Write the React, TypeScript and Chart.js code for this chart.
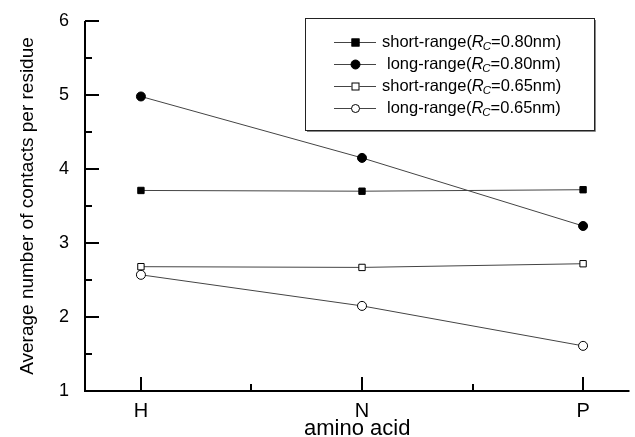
import React, { useEffect, useRef } from "react";
import { Chart, registerables } from "chart.js";

Chart.register(...registerables);

const categories = ["H", "N", "P"];
const shortRange080 = [3.71, 3.7, 3.72];
const longRange080 = [4.98, 4.15, 3.23];
const shortRange065 = [2.68, 2.67, 2.72];
const longRange065 = [2.57, 2.15, 1.61];
const yTicks = [1, 2, 3, 4, 5, 6];
const legendRows = [
  { prefix: "short-range(", value: "=0.80nm)", style: "rect", filled: true },
  { prefix: "long-range(", value: "=0.80nm)", style: "circle", filled: true },
  { prefix: "short-range(", value: "=0.65nm)", style: "rect", filled: false },
  { prefix: "long-range(", value: "=0.65nm)", style: "circle", filled: false },
];

const FONT = "'Liberation Sans', Arial, sans-serif";

const toPoints = (vals: number[]) => vals.map((v, i) => ({ x: i, y: v }));

const axesPlugin = {
  id: "customAxes",
  afterDraw(chart: any) {
    const ctx = chart.ctx;
    const xs = chart.scales.x;
    const ys = chart.scales.y;
    const { left, right, top, bottom } = chart.chartArea;
    ctx.save();
    ctx.strokeStyle = "#000";
    ctx.lineWidth = 2;
    ctx.beginPath();
    ctx.moveTo(left, top);
    ctx.lineTo(left, bottom);
    ctx.lineTo(right, bottom);
    ctx.stroke();
    // y ticks (inward)
    for (let v = 1; v <= 6.001; v += 0.5) {
      const y = Math.round(ys.getPixelForValue(v));
      const major = Math.abs(v - Math.round(v)) < 1e-6;
      ctx.beginPath();
      ctx.moveTo(left, y);
      ctx.lineTo(left + (major ? 14 : 7), y);
      ctx.stroke();
    }
    // x ticks (inward)
    for (let v = 0; v <= 2.001; v += 0.5) {
      const x = Math.round(xs.getPixelForValue(v));
      const major = Math.abs(v - Math.round(v)) < 1e-6;
      ctx.beginPath();
      ctx.moveTo(x, bottom);
      ctx.lineTo(x, bottom - (major ? 14 : 7));
      ctx.stroke();
    }
    // legend
    const bx = 305, by = 18, bw = 289, bh = 112;
    ctx.fillStyle = "#fff";
    ctx.fillRect(bx, by, bw, bh);
    ctx.strokeStyle = "#888";
    ctx.lineWidth = 1;
    ctx.beginPath();
    ctx.moveTo(bx + bw + 1.5, by + 2);
    ctx.lineTo(bx + bw + 1.5, by + bh + 1.5);
    ctx.lineTo(bx + 2, by + bh + 1.5);
    ctx.stroke();
    ctx.strokeStyle = "#222";
    ctx.strokeRect(bx + 0.5, by + 0.5, bw, bh);
    const rowY = [42, 64, 86, 108];
    legendRows.forEach((r, i) => {
      const y = rowY[i];
      ctx.strokeStyle = "#444";
      ctx.lineWidth = 1;
      ctx.beginPath();
      ctx.moveTo(334, y + 0.5);
      ctx.lineTo(376, y + 0.5);
      ctx.stroke();
      ctx.fillStyle = r.filled ? "#000" : "#fff";
      ctx.strokeStyle = "#000";
      if (r.style === "rect") {
        ctx.fillRect(351.5, y - 3.5, 8, 8);
        ctx.strokeRect(352, y - 3, 7, 7);
      } else {
        ctx.beginPath();
        ctx.arc(355.5, y + 0.5, r.filled ? 4.5 : 4, 0, Math.PI * 2);
        ctx.fill();
        ctx.stroke();
      }
      ctx.fillStyle = "#000";
      ctx.textBaseline = "middle";
      ctx.textAlign = "left";
      let x = r.prefix.startsWith("short") ? 382 : 387;
      ctx.font = `16.5px ${FONT}`;
      ctx.fillText(r.prefix, x, y);
      x += ctx.measureText(r.prefix).width;
      ctx.font = `italic 16.5px ${FONT}`;
      ctx.fillText("R", x, y);
      x += ctx.measureText("R").width;
      ctx.font = `italic 11.5px ${FONT}`;
      ctx.fillText("C", x - 1, y + 5);
      x += ctx.measureText("C").width - 1;
      ctx.font = `16.5px ${FONT}`;
      ctx.fillText(r.value, x, y);
    });
    ctx.restore();
  },
};

export default function App() {
  const ref = useRef<HTMLCanvasElement>(null);
  useEffect(() => {
    document.body.style.margin = "0";
    const mk = (label: string, vals: number[], style: string, filled: boolean) => ({
      label,
      data: toPoints(vals),
      borderColor: "#444",
      borderWidth: 1,
      pointStyle: style,
      pointRadius: 4.5,
      pointBackgroundColor: filled ? "#000" : "#fff",
      pointBorderColor: "#000",
      pointBorderWidth: 1,
      tension: 0,
    });
    const chart = new Chart(ref.current!, {
      type: "line",
      data: {
        datasets: [
          mk("short-range(Rc=0.80nm)", shortRange080, "rect", true),
          mk("long-range(Rc=0.80nm)", longRange080, "circle", true),
          mk("short-range(Rc=0.65nm)", shortRange065, "rect", false),
          mk("long-range(Rc=0.65nm)", longRange065, "circle", false),
        ],
      },
      options: {
        animation: false,
        responsive: false,
        layout: { padding: { top: 21, right: 0, left: 0, bottom: 0 } },
        plugins: { legend: { display: false }, tooltip: { enabled: false } },
        scales: {
          x: {
            type: "linear",
            min: -0.253,
            max: 2.21,
            grid: { display: false, drawTicks: false },
            border: { display: false },
            afterBuildTicks: (s: any) => {
              s.ticks = categories.map((_, i) => ({ value: i }));
            },
            afterFit: (s: any) => {
              s.height = 46;
              s.paddingLeft = 0;
              s.paddingRight = 0;
            },
            ticks: {
              includeBounds: false,
              autoSkip: false,
              maxRotation: 0,
              padding: 8,
              color: "#000",
              font: { family: FONT, size: 20 },
              callback: (v: any) => categories[Math.round(v)] ?? "",
            },
            title: {
              display: true,
              text: "amino acid",
              color: "#000",
              font: { family: FONT, size: 22, lineHeight: 0.7 },
              padding: { top: 0, bottom: 0 },
            },
          },
          y: {
            type: "linear",
            min: 1,
            max: 6,
            grid: { display: false, drawTicks: false },
            border: { display: false },
            afterBuildTicks: (s: any) => {
              s.ticks = yTicks.map((v) => ({ value: v }));
            },
            afterFit: (s: any) => {
              s.width = 85;
              s.paddingTop = 0;
              s.paddingBottom = 0;
            },
            ticks: {
              padding: 16,
              color: "#000",
              font: { family: FONT, size: 18 },
            },
            title: {
              display: true,
              text: "Average number of contacts per residue",
              color: "#000",
              font: { family: FONT, size: 19 },
              padding: { top: 16, bottom: 0 },
            },
          },
        },
      },
      plugins: [axesPlugin],
    });
    return () => chart.destroy();
  }, []);
  return (
    <div style={{ position: "fixed", left: 0, top: 0, width: 635, height: 437 }}>
      <canvas ref={ref} width={635} height={437} style={{ width: 635, height: 437 }} />
    </div>
  );
}
